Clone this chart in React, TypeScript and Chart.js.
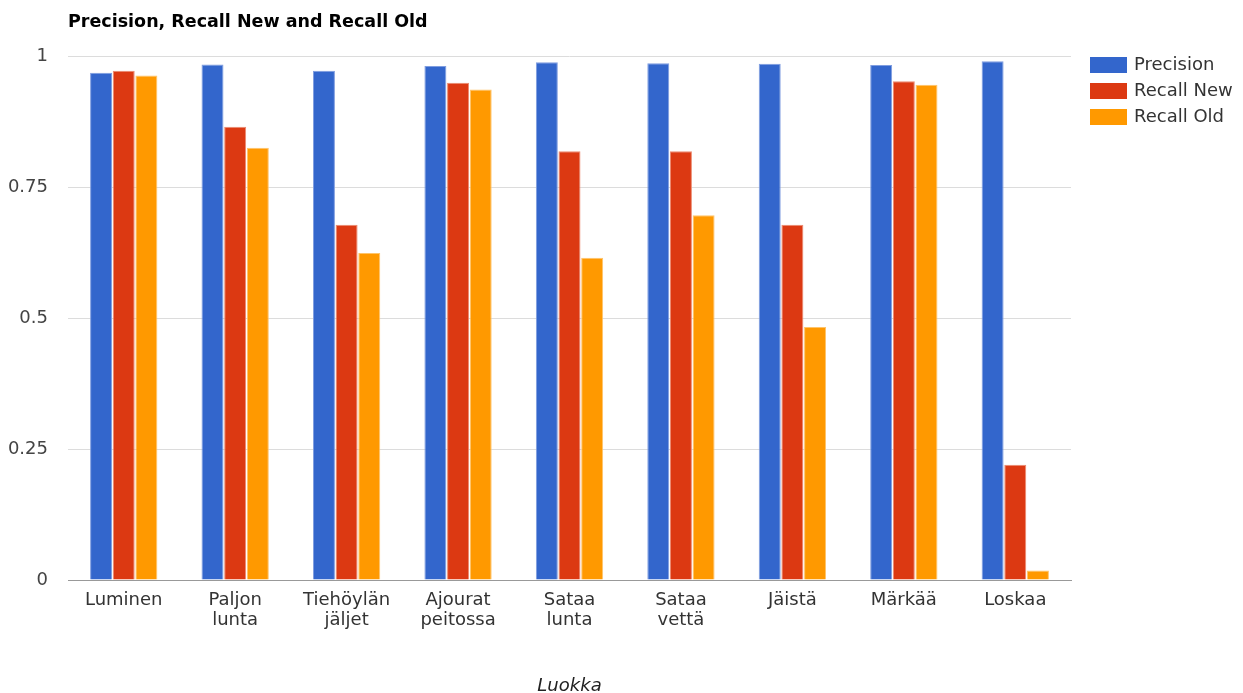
import React, { useEffect, useRef } from "react";
import { Chart, registerables } from "chart.js";

Chart.register(...registerables);

const categories: string[][] = [
  ["Luminen"],
  ["Paljon", "lunta"],
  ["Tiehöylän", "jäljet"],
  ["Ajourat", "peitossa"],
  ["Sataa", "lunta"],
  ["Sataa", "vettä"],
  ["Jäistä"],
  ["Märkää"],
  ["Loskaa"],
];

const precision = [0.968, 0.984, 0.972, 0.981, 0.988, 0.986, 0.985, 0.983, 0.99];
const recallNew = [0.972, 0.865, 0.678, 0.949, 0.818, 0.818, 0.678, 0.952, 0.22];
const recallOld = [0.963, 0.825, 0.624, 0.936, 0.615, 0.696, 0.483, 0.945, 0.018];

const yTicks = [0, 0.25, 0.5, 0.75, 1];

const seriesNames = ["Precision", "Recall New", "Recall Old"];
const seriesColors = ["#3366cc", "#dc3912", "#ff9900"];
const seriesBorders = ["#7f9de0", "#ec8a70", "#ffc46a"];

const titleText = "Precision, Recall New and Recall Old";
const xAxisTitle = "Luokka";

const FONT = "'DejaVu Sans', sans-serif";

// Title, right-hand legend and the x-axis caption drawn straight onto the canvas
const decorations = {
  id: "decorations",
  afterDraw(chart: any) {
    const ctx = chart.ctx as CanvasRenderingContext2D;
    const area = chart.chartArea;
    ctx.save();

    ctx.fillStyle = "#000";
    ctx.font = `bold 17.5px ${FONT}`;
    ctx.textAlign = "left";
    ctx.textBaseline = "middle";
    ctx.fillText(titleText, area.left, 22);

    ctx.font = `18px ${FONT}`;
    seriesNames.forEach((name, i) => {
      const top = 57 + i * 26;
      ctx.fillStyle = seriesColors[i];
      ctx.fillRect(1090, top, 37, 16);
      ctx.fillStyle = "#333";
      ctx.textBaseline = "middle";
      ctx.fillText(name, 1134, top + 8);
    });

    ctx.font = `italic 18px ${FONT}`;
    ctx.fillStyle = "#222";
    ctx.textAlign = "center";
    ctx.fillText(xAxisTitle, (area.left + area.right) / 2, 686);
    ctx.restore();
  },
};

export default function App() {
  const canvasRef = useRef<HTMLCanvasElement | null>(null);

  useEffect(() => {
    if (!canvasRef.current) return;
    const mkSet = (data: number[], i: number) => ({
      label: seriesNames[i],
      data,
      backgroundColor: seriesColors[i],
      borderColor: seriesBorders[i],
      borderWidth: 1,
      categoryPercentage: 0.61,
      barPercentage: 0.97,
    });
    const chart = new Chart(canvasRef.current, {
      type: "bar",
      data: {
        labels: categories,
        datasets: [mkSet(precision, 0), mkSet(recallNew, 1), mkSet(recallOld, 2)],
      },
      options: {
        animation: false,
        responsive: false,
        maintainAspectRatio: false,
        layout: { padding: { top: 56, right: 172, left: 0, bottom: 0 } },
        plugins: {
          legend: { display: false },
          title: { display: false },
          tooltip: { enabled: false },
        },
        scales: {
          x: {
            grid: { display: false, drawTicks: false },
            border: { display: true, color: "#999", width: 1 },
            ticks: {
              color: "#333",
              font: { family: FONT, size: 18, lineHeight: 1.14 },
              padding: 10,
              maxRotation: 0,
              autoSkip: false,
            },
            afterFit(scale: any) {
              scale.height = 113;
            },
          },
          y: {
            min: 0,
            max: 1,
            afterBuildTicks(scale: any) {
              scale.ticks = yTicks.map((v) => ({ value: v }));
            },
            grid: { color: "#dcdcdc", drawTicks: false },
            border: { display: false },
            ticks: {
              color: "#444",
              font: { family: FONT, size: 18 },
              padding: 20,
              callback: (v: any) => String(v),
            },
            afterFit(scale: any) {
              scale.width = 68;
            },
          },
        },
      },
      plugins: [decorations],
    });
    return () => chart.destroy();
  }, []);

  return (
    <div style={{ position: "fixed", left: 0, top: 0, width: 1243, height: 693, background: "#fff" }}>
      <canvas ref={canvasRef} width={1243} height={693} style={{ display: "block" }} />
    </div>
  );
}
